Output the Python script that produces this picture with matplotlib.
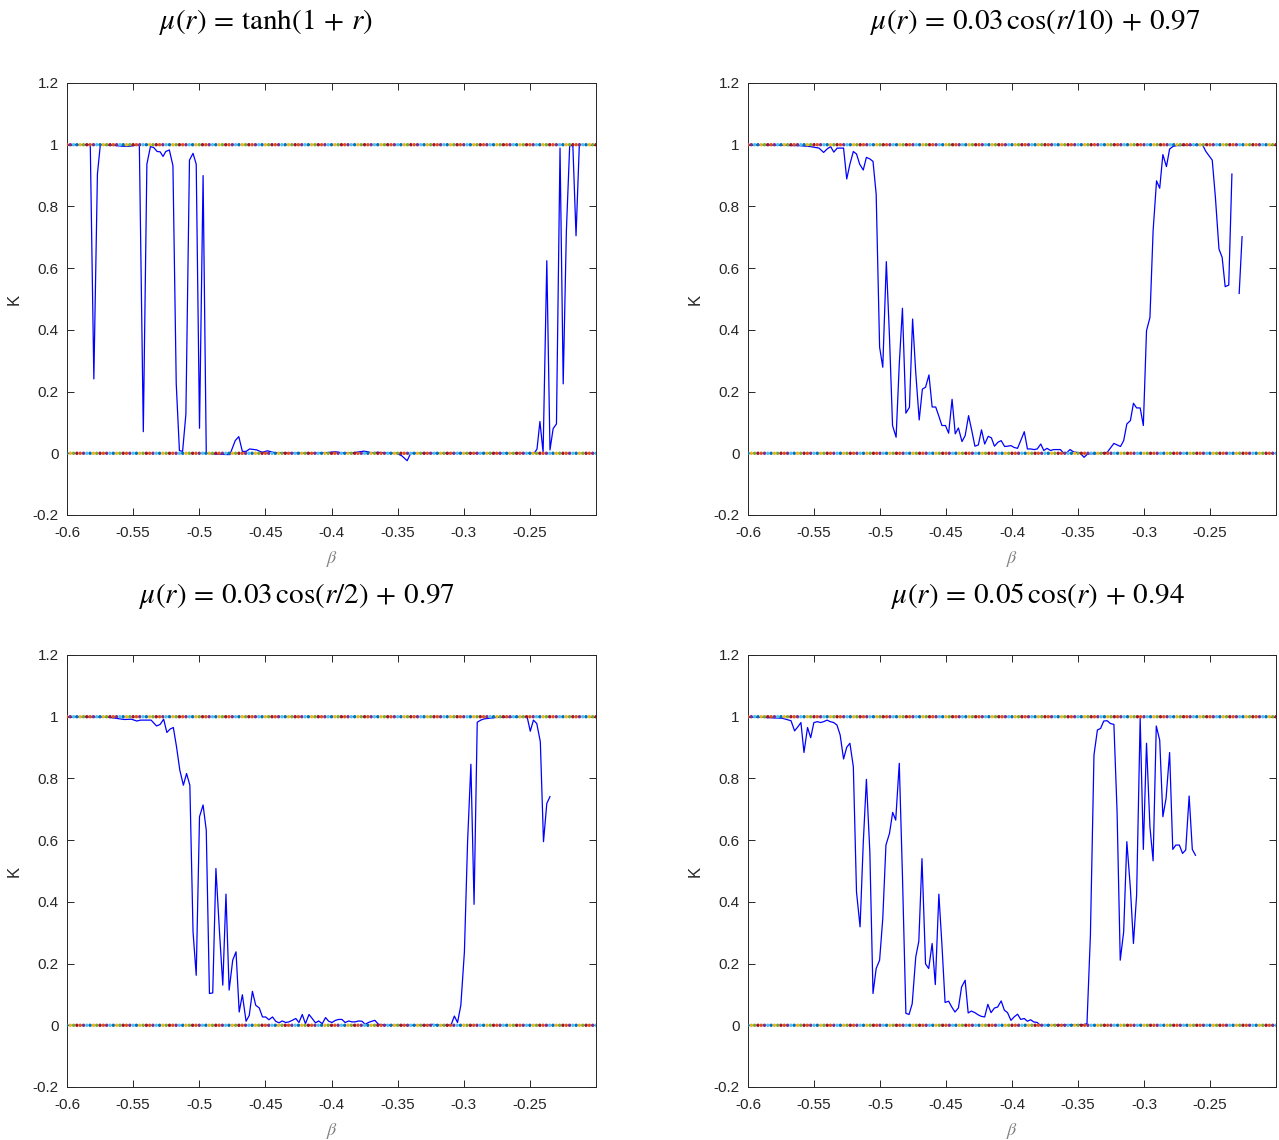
import numpy as np
import matplotlib
matplotlib.use("Agg")
import matplotlib.pyplot as plt

############################################
# 1. data
############################################
# mu(r) = tanh(1 + r)
beta_a = [-0.6, -0.5824, -0.5797, -0.5770, -0.5748, -0.5648, -0.5580, -0.5526, -0.5486,
          -0.5453, -0.5423, -0.5396, -0.5369, -0.5345, -0.5318, -0.5296, -0.5274, -0.5253,
          -0.5226, -0.5199, -0.5174, -0.5150, -0.5126, -0.5101, -0.5074, -0.5047, -0.5023,
          -0.4998, -0.4971, -0.4947, -0.4890, -0.4795, -0.4768, -0.4728, -0.4701, -0.4674,
          -0.4646, -0.4619, -0.4565, -0.4525, -0.4484, -0.4430, -0.4322, -0.4159, -0.4037,
          -0.3970, -0.3916, -0.3834, -0.3753, -0.3699, -0.3645, -0.3577, -0.3509, -0.3469,
          -0.3428, -0.3401, -0.3347, -0.2467, -0.2446, -0.2424, -0.2400, -0.2372, -0.2348,
          -0.2324, -0.2299, -0.2272, -0.2248, -0.2224, -0.2199, -0.2175, -0.2151, -0.2126]
K_a = [1.0, 1.0, 0.241, 0.905, 1.0, 0.998, 0.995, 0.995, 0.998,
       1.0, 0.070, 0.937, 0.994, 0.991, 0.978, 0.977, 0.962, 0.978,
       0.983, 0.932, 0.225, 0.009, 0.006, 0.127, 0.950, 0.972, 0.937,
       0.081, 0.900, 0.0, -0.002, -0.004, -0.004, 0.041, 0.054, 0.006,
       0.006, 0.014, 0.011, 0.003, 0.008, 0.002, 0.001, 0.0, 0.002,
       0.005, 0.001, 0.002, 0.007, 0.002, 0.003, 0.001, 0.0, -0.008,
       -0.024, 0.0, 0.0, 0.0, 0.014, 0.103, 0.003, 0.624, 0.011,
       0.080, 0.095, 0.989, 0.225, 0.720, 0.997, 0.997, 0.705, 1.0]

# mu(r) = 0.03 cos(r/10) + 0.97   (nan = gap in the curve)
beta_b = [-0.6, -0.574, -0.5607, -0.5528, -0.5462, -0.5427, -0.5401, -0.5374, -0.5350,
          -0.5324, -0.5276, -0.5252, -0.5228, -0.5202, -0.5178, -0.5154, -0.5127, -0.5103,
          -0.5077, -0.5053, -0.5029, -0.5003, -0.4979, -0.4952, -0.4928, -0.4905, -0.4878,
          -0.4854, -0.4830, -0.4804, -0.4777, -0.4753, -0.4729, -0.4703, -0.4679, -0.4655,
          -0.4629, -0.4605, -0.4578, -0.4554, -0.4531, -0.4504, -0.4480, -0.4454, -0.4430,
          -0.4406, -0.4379, -0.4355, -0.4329, -0.4305, -0.4281, -0.4255, -0.4231, -0.4207,
          -0.4180, -0.4156, -0.4133, -0.4106, -0.4082, -0.4056, -0.4032, -0.4008, -0.3984,
          -0.3958, -0.3934, -0.3907, -0.3883, -0.3857, -0.3833, -0.3809, -0.3782, -0.3759,
          -0.3735, -0.3708, -0.3684, -0.3634, -0.3610, -0.3586, -0.3560, -0.3536, -0.3485,
          -0.3454, -0.3427, -0.3326, -0.3279, -0.3228, -0.3178, -0.3154, -0.3130, -0.3103,
          -0.3080, -0.3056, -0.3029, -0.3005, -0.2981, -0.2955, -0.2931, -0.2905, -0.2881,
          -0.2857, -0.2830, -0.2806, -0.2782, -0.2756, -0.2557, -0.2531, -0.2507, -0.2483,
          -0.2459, -0.2432, -0.2408, -0.2385, -0.2358, -0.2334, -0.2306, -0.2279, -0.2257]
K_b = [1.0, 0.998, 0.997, 0.994, 0.989, 0.975, 0.986, 0.994, 0.976,
       0.989, 0.989, 0.889, 0.937, 0.978, 0.970, 0.937, 0.918, 0.959,
       0.954, 0.946, 0.840, 0.344, 0.279, 0.621, 0.376, 0.090, 0.052,
       0.289, 0.470, 0.130, 0.149, 0.435, 0.260, 0.108, 0.208, 0.214,
       0.254, 0.150, 0.150, 0.120, 0.090, 0.090, 0.065, 0.175, 0.063,
       0.082, 0.038, 0.057, 0.122, 0.074, 0.023, 0.027, 0.076, 0.030,
       0.055, 0.050, 0.023, 0.036, 0.041, 0.022, 0.023, 0.025, 0.019,
       0.016, 0.041, 0.070, 0.014, 0.014, 0.012, 0.014, 0.030, 0.009,
       0.016, 0.009, 0.012, 0.012, 0.001, 0.002, 0.012, 0.005, 0.001,
       -0.013, -0.002, 0.0, 0.003, 0.032, 0.022, 0.041, 0.095, 0.106,
       0.162, 0.147, 0.147, 0.090, 0.397, 0.440, 0.721, 0.883, 0.859,
       0.968, 0.929, 0.986, 0.994, 0.997, 1.0, 0.978, 0.964, 0.950,
       0.829, 0.662, 0.635, 0.540, 0.545, 0.905, np.nan, 0.518, 0.702]

# mu(r) = 0.03 cos(r/2) + 0.97
beta_c = [-0.6, -0.5702, -0.5648, -0.5567, -0.5513, -0.5472, -0.5445, -0.5364, -0.5323,
          -0.5296, -0.5269, -0.5245, -0.5220, -0.5196, -0.5172, -0.5147, -0.5120, -0.5096,
          -0.5071, -0.5047, -0.5023, -0.4998, -0.4971, -0.4947, -0.4923, -0.4898, -0.4874,
          -0.4847, -0.4822, -0.4798, -0.4774, -0.4747, -0.4722, -0.4698, -0.4674, -0.4646,
          -0.4622, -0.4598, -0.4573, -0.4546, -0.4522, -0.4498, -0.4473, -0.4446, -0.4422,
          -0.4397, -0.4373, -0.4346, -0.4322, -0.4297, -0.4270, -0.4246, -0.4221, -0.4197,
          -0.4170, -0.4146, -0.4121, -0.4097, -0.4070, -0.4045, -0.4021, -0.3997, -0.3970,
          -0.3945, -0.3921, -0.3897, -0.3870, -0.3845, -0.3821, -0.3796, -0.3769, -0.3745,
          -0.3721, -0.3696, -0.3672, -0.3645, -0.3618, -0.3564, -0.3266, -0.3239, -0.3185,
          -0.3117, -0.3095, -0.3071, -0.3047, -0.3022, -0.2995, -0.2971, -0.2946, -0.2922,
          -0.2898, -0.2871, -0.2846, -0.2806, -0.2751, -0.2535, -0.2521, -0.2497, -0.2473,
          -0.2448, -0.2421, -0.2397, -0.2372, -0.2348]
K_c = [1.0, 0.999, 0.996, 0.991, 0.992, 0.986, 0.989, 0.989, 0.970,
       0.975, 0.992, 0.949, 0.960, 0.965, 0.903, 0.827, 0.778, 0.816,
       0.778, 0.303, 0.162, 0.676, 0.714, 0.632, 0.103, 0.105, 0.508,
       0.303, 0.130, 0.425, 0.114, 0.211, 0.238, 0.043, 0.099, 0.013,
       0.032, 0.110, 0.065, 0.056, 0.027, 0.027, 0.018, 0.027, 0.013,
       0.008, 0.014, 0.009, 0.011, 0.016, 0.022, 0.009, 0.035, 0.005,
       0.035, 0.022, 0.008, 0.014, 0.005, 0.025, 0.013, 0.009, 0.016,
       0.019, 0.019, 0.009, 0.014, 0.011, 0.011, 0.014, 0.013, 0.003,
       0.009, 0.013, 0.016, 0.003, 0.002, 0.0, 0.0, 0.003, 0.0,
       0.0, 0.002, 0.030, 0.009, 0.065, 0.238, 0.595, 0.846, 0.392,
       0.982, 0.989, 0.993, 0.995, 0.998, 1.0, 1.0, 0.953, 0.989,
       0.978, 0.919, 0.595, 0.719, 0.741]

# mu(r) = 0.05 cos(r) + 0.94
beta_d = [-0.6, -0.574, -0.5674, -0.5647, -0.5621, -0.5599, -0.5576, -0.5549, -0.5525,
          -0.5501, -0.5475, -0.5451, -0.5427, -0.5401, -0.5377, -0.5350, -0.5326, -0.5302,
          -0.5276, -0.5252, -0.5228, -0.5202, -0.5178, -0.5151, -0.5127, -0.5103, -0.5077,
          -0.5053, -0.5029, -0.5003, -0.4979, -0.4955, -0.4928, -0.4904, -0.4881, -0.4854,
          -0.4830, -0.4804, -0.4780, -0.4756, -0.4729, -0.4706, -0.4682, -0.4655, -0.4631,
          -0.4605, -0.4581, -0.4554, -0.4531, -0.4507, -0.4480, -0.4456, -0.4432, -0.4406,
          -0.4382, -0.4355, -0.4332, -0.4308, -0.4281, -0.4257, -0.4233, -0.4207, -0.4183,
          -0.4159, -0.4133, -0.4109, -0.4082, -0.4058, -0.4034, -0.4008, -0.3984, -0.3958,
          -0.3934, -0.3907, -0.3883, -0.3859, -0.3836, -0.3809, -0.3785, -0.3459, -0.3432,
          -0.3406, -0.3379, -0.3353, -0.3329, -0.3305, -0.3279, -0.3255, -0.3228, -0.3204,
          -0.3180, -0.3154, -0.3130, -0.3103, -0.3080, -0.3056, -0.3029, -0.3005, -0.2981,
          -0.2955, -0.2931, -0.2907, -0.2881, -0.2857, -0.2833, -0.2806, -0.2782, -0.2759,
          -0.2732, -0.2708, -0.2684, -0.2658, -0.2634, -0.2610]
K_d = [1.0, 0.995, 0.987, 0.954, 0.968, 0.981, 0.884, 0.965, 0.932,
       0.981, 0.984, 0.981, 0.984, 0.989, 0.984, 0.981, 0.973, 0.941,
       0.863, 0.901, 0.914, 0.838, 0.432, 0.319, 0.589, 0.797, 0.562,
       0.103, 0.184, 0.211, 0.346, 0.584, 0.622, 0.690, 0.665, 0.849,
       0.486, 0.039, 0.035, 0.070, 0.222, 0.272, 0.540, 0.199, 0.184,
       0.265, 0.132, 0.425, 0.262, 0.074, 0.078, 0.059, 0.043, 0.056,
       0.124, 0.146, 0.040, 0.046, 0.041, 0.034, 0.029, 0.027, 0.068,
       0.041, 0.056, 0.059, 0.079, 0.049, 0.041, 0.016, 0.027, 0.036,
       0.019, 0.022, 0.013, 0.018, 0.011, 0.009, 0.0, 0.002, 0.005,
       0.292, 0.876, 0.957, 0.962, 0.986, 0.987, 0.978, 0.975, 0.692,
       0.211, 0.303, 0.595, 0.443, 0.265, 0.422, 0.995, 0.570, 0.914,
       0.643, 0.533, 0.970, 0.924, 0.676, 0.735, 0.884, 0.570, 0.584,
       0.584, 0.557, 0.568, 0.743, 0.570, 0.551]

titles = [r"$\mu(r)\,=\,\tanh(1\,+\,r)$",
          r"$\mu(r)\,=\,0.03\,\cos(r/10)\,+\,0.97$",
          r"$\mu(r)\,=\,0.03\,\cos(r/2)\,+\,0.97$",
          r"$\mu(r)\,=\,0.05\,\cos(r)\,+\,0.94$"]

# beta grid of the dotted reference lines at K = 0 and K = 1
beta_grid = np.arange(-0.6, -0.2 + 1e-9, 0.0025)

xticks = [-0.6, -0.55, -0.5, -0.45, -0.4, -0.35, -0.3, -0.25]
xticklabels = ["-0.6", "-0.55", "-0.5", "-0.45", "-0.4", "-0.35", "-0.3", "-0.25"]
yticks = [-0.2, 0, 0.2, 0.4, 0.6, 0.8, 1, 1.2]
yticklabels = ["-0.2", "0", "0.2", "0.4", "0.6", "0.8", "1", "1.2"]

matlab_colors = ["#0072BD", "#D95319", "#EDB120", "#7E2F8E",
                 "#77AC30", "#4DBEEE", "#A2142F"]

############################################
# 2. figure
############################################
plt.rcParams["font.family"] = ["Liberation Sans", "DejaVu Sans"]
plt.rcParams["mathtext.fontset"] = "stix"

W, H = 1279, 1140
fig = plt.figure(figsize=(W / 100, H / 100), dpi=100)

# axes boxes in pixels: left, top, right, bottom
boxes = [(67, 83, 596, 515), (748, 83, 1276, 515),
         (67, 655, 596, 1087), (748, 655, 1276, 1087)]
title_pos = [(266, 22), (1035, 22), (297, 596), (1038, 596)]
curves = [(beta_a, K_a), (beta_b, K_b), (beta_c, K_c), (beta_d, K_d)]

axcol = "#262626"

for i, (l, t, r, b) in enumerate(boxes):
    ax = fig.add_axes([l / W, 1 - b / H, (r - l) / W, (b - t) / H])
    bx, ky = curves[i]
    ax.plot(bx, ky, color="#0000FF", lw=0.9, zorder=2)

    cols0 = [matlab_colors[(2 * k) % 7] for k in range(len(beta_grid))]
    cols1 = [matlab_colors[(2 * k + 1) % 7] for k in range(len(beta_grid))]
    ax.scatter(beta_grid, np.zeros_like(beta_grid), s=6, c=cols0, linewidths=0, zorder=3)
    ax.scatter(beta_grid, np.ones_like(beta_grid), s=6, c=cols1, linewidths=0, zorder=3)

    ax.set_xlim(-0.6, -0.2)
    ax.set_ylim(-0.2, 1.2)
    ax.set_xticks(xticks)
    ax.set_xticklabels(xticklabels)
    ax.set_yticks(yticks)
    ax.set_yticklabels(yticklabels)
    ax.tick_params(direction="in", top=True, right=True, length=5, width=0.7,
                   colors=axcol, labelsize=11)
    ax.tick_params(axis="x", pad=8)
    ax.tick_params(axis="y", pad=6)
    for sp in ax.spines.values():
        sp.set_color(axcol)
        sp.set_linewidth(0.7)

    ax.set_ylabel("K", fontsize=12, color=axcol)
    ax.yaxis.set_label_coords(-0.085, 0.5)
    ax.set_xlabel(r"$\beta$", fontsize=13, color="#808080")
    ax.xaxis.set_label_coords(0.5, -0.079)

    tx, ty = title_pos[i]
    fig.text(tx / W, 1 - ty / H, titles[i], ha="center", va="center",
             fontsize=21, color="black")

fig.savefig("out.png", dpi=100)
